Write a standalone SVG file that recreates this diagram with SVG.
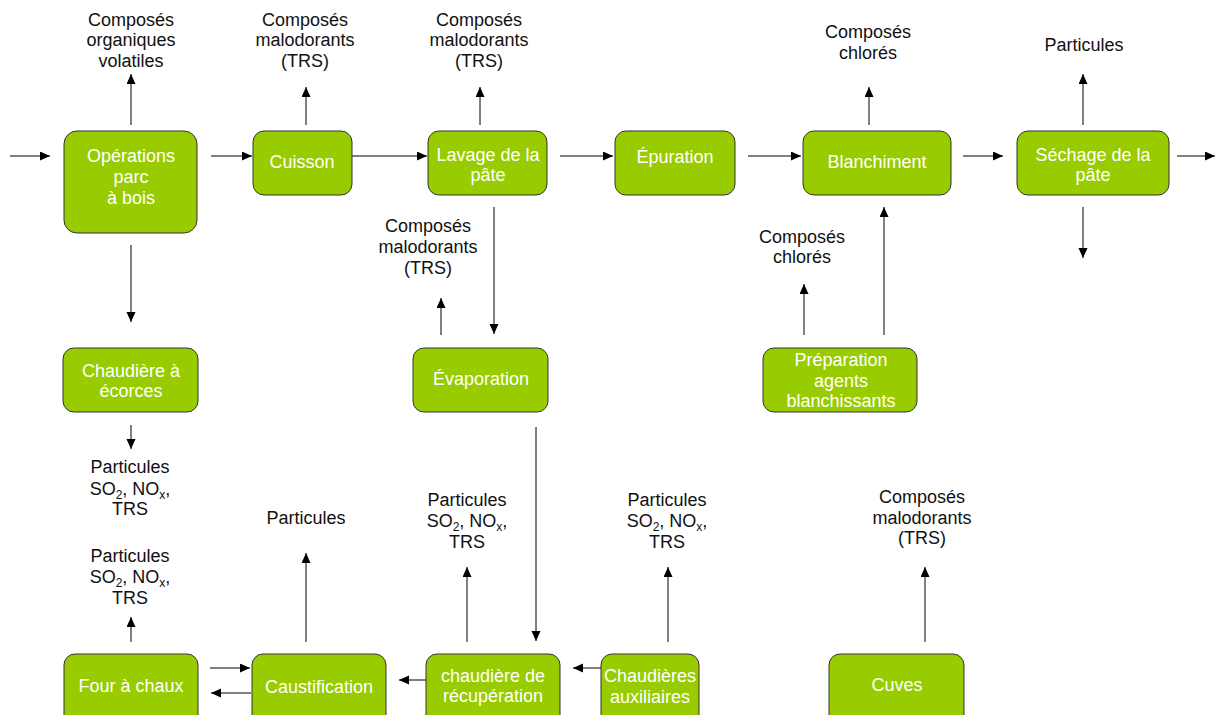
<svg xmlns="http://www.w3.org/2000/svg" width="1215" height="715" viewBox="0 0 1215 715">
<style>
.box{fill:#99cc00;stroke:#333;stroke-width:1}
.nt{font-family:"Liberation Sans",Arial,sans-serif;font-size:18px;fill:#fff;text-anchor:middle}
.lb{font-family:"Liberation Sans",Arial,sans-serif;font-size:18px;fill:#111;text-anchor:middle}
.sub{font-size:12px}
.c{stroke:#000;stroke-width:1;fill:none;marker-end:url(#ah)}
</style>
<defs>
<marker id="ah" markerUnits="userSpaceOnUse" markerWidth="11" markerHeight="10" refX="10" refY="4.5" orient="auto">
<path d="M0,0 L10,4.5 L0,9 z" fill="#000"/>
</marker>
</defs>
<rect width="1215" height="715" fill="#fff"/>
<g id="connectors">
<path class="c" d="M10,156 H50"/>
<path class="c" d="M211,156 H252"/>
<path class="c" d="M352,156 H427"/>
<path class="c" d="M560,156 H613"/>
<path class="c" d="M748,156 H801"/>
<path class="c" d="M963,156 H1003"/>
<path class="c" d="M1177,156 H1215"/>
<path class="c" d="M131,125 V74"/>
<path class="c" d="M306,125 V87"/>
<path class="c" d="M480,125 V87"/>
<path class="c" d="M869,125 V87"/>
<path class="c" d="M1083,125 V74"/>
<path class="c" d="M1083,207 V258"/>
<path class="c" d="M131,245 V322"/>
<path class="c" d="M494,207 V334"/>
<path class="c" d="M441,335 V298"/>
<path class="c" d="M536,427 V641"/>
<path class="c" d="M804,335 V284"/>
<path class="c" d="M884,335 V207"/>
<path class="c" d="M131,425 V449"/>
<path class="c" d="M131,642 V617"/>
<path class="c" d="M210,668 H250"/>
<path class="c" d="M251,693 H211"/>
<path class="c" d="M306,642 V553"/>
<path class="c" d="M426,680 H399"/>
<path class="c" d="M467,642 V567"/>
<path class="c" d="M601,668 H573"/>
<path class="c" d="M668,642 V567"/>
<path class="c" d="M925,642 V567"/>
</g>
<g id="labels">
<text class="lb" x="131" y="26">Composés</text>
<text class="lb" x="131" y="46">organiques</text>
<text class="lb" x="131" y="67">volatiles</text>
<text class="lb" x="305" y="26">Composés</text>
<text class="lb" x="305" y="46">malodorants</text>
<text class="lb" x="305" y="67">(TRS)</text>
<text class="lb" x="479" y="26">Composés</text>
<text class="lb" x="479" y="46">malodorants</text>
<text class="lb" x="479" y="67">(TRS)</text>
<text class="lb" x="868" y="38">Composés</text>
<text class="lb" x="868" y="59">chlorés</text>
<text class="lb" x="1084" y="51">Particules</text>
<text class="lb" x="428" y="232">Composés</text>
<text class="lb" x="428" y="253">malodorants</text>
<text class="lb" x="428" y="274">(TRS)</text>
<text class="lb" x="802" y="243">Composés</text>
<text class="lb" x="802" y="263">chlorés</text>
<text class="lb" x="130" y="473">Particules</text>
<text class="lb" x="130" y="495">SO<tspan class="sub" dy="4">2</tspan><tspan dy="-4">, NO</tspan><tspan class="sub" dy="4">x</tspan><tspan dy="-4">,</tspan></text>
<text class="lb" x="130" y="515">TRS</text>
<text class="lb" x="130" y="562">Particules</text>
<text class="lb" x="130" y="583">SO<tspan class="sub" dy="4">2</tspan><tspan dy="-4">, NO</tspan><tspan class="sub" dy="4">x</tspan><tspan dy="-4">,</tspan></text>
<text class="lb" x="130" y="604">TRS</text>
<text class="lb" x="306" y="524">Particules</text>
<text class="lb" x="467" y="506">Particules</text>
<text class="lb" x="467" y="527">SO<tspan class="sub" dy="4">2</tspan><tspan dy="-4">, NO</tspan><tspan class="sub" dy="4">x</tspan><tspan dy="-4">,</tspan></text>
<text class="lb" x="467" y="548">TRS</text>
<text class="lb" x="667" y="506">Particules</text>
<text class="lb" x="667" y="527">SO<tspan class="sub" dy="4">2</tspan><tspan dy="-4">, NO</tspan><tspan class="sub" dy="4">x</tspan><tspan dy="-4">,</tspan></text>
<text class="lb" x="667" y="548">TRS</text>
<text class="lb" x="922" y="503">Composés</text>
<text class="lb" x="922" y="524">malodorants</text>
<text class="lb" x="922" y="544">(TRS)</text>
</g>
<g id="n-operations"><rect class="box" x="64" y="131" width="133" height="102" rx="13"/>
<text class="nt" x="131" y="162">Opérations</text><text class="nt" x="131" y="183">parc</text><text class="nt" x="131" y="204">à bois</text></g>
<g id="n-cuisson"><rect class="box" x="253" y="131" width="99" height="64" rx="11"/>
<text class="nt" x="302" y="168">Cuisson</text></g>
<g id="n-lavage"><rect class="box" x="428" y="131" width="119" height="64" rx="11"/>
<text class="nt" x="488" y="161">Lavage de la</text><text class="nt" x="488" y="181">pâte</text></g>
<g id="n-epuration"><rect class="box" x="615" y="131" width="120" height="64" rx="11"/>
<text class="nt" x="675" y="163">Épuration</text></g>
<g id="n-blanchiment"><rect class="box" x="803" y="131" width="148" height="64" rx="11"/>
<text class="nt" x="877" y="168">Blanchiment</text></g>
<g id="n-sechage"><rect class="box" x="1017" y="131" width="152" height="64" rx="11"/>
<text class="nt" x="1093" y="161">Séchage de la</text><text class="nt" x="1093" y="181">pâte</text></g>
<g id="n-chaudiere-ecorces"><rect class="box" x="63" y="348" width="135" height="64" rx="11"/>
<text class="nt" x="131" y="377">Chaudière à</text><text class="nt" x="131" y="397">écorces</text></g>
<g id="n-evaporation"><rect class="box" x="413" y="348" width="135" height="64" rx="11"/>
<text class="nt" x="481" y="385">Évaporation</text></g>
<g id="n-preparation"><rect class="box" x="763" y="348" width="154" height="64" rx="11"/>
<text class="nt" x="841" y="366">Préparation</text><text class="nt" x="841" y="387">agents</text><text class="nt" x="841" y="407">blanchissants</text></g>
<g id="n-four"><rect class="box" x="64" y="654" width="134" height="72" rx="11"/>
<text class="nt" x="131" y="692">Four à chaux</text></g>
<g id="n-caustification"><rect class="box" x="252" y="654" width="134" height="72" rx="11"/>
<text class="nt" x="319" y="693">Caustification</text></g>
<g id="n-chaudiere-recuperation"><rect class="box" x="426" y="654" width="134" height="72" rx="11"/>
<text class="nt" x="493" y="682">chaudière de</text><text class="nt" x="493" y="702">récupération</text></g>
<g id="n-chaudieres-auxiliaires"><rect class="box" x="601" y="654" width="98" height="72" rx="11"/>
<text class="nt" x="650" y="682">Chaudières</text><text class="nt" x="650" y="703">auxiliaires</text></g>
<g id="n-cuves"><rect class="box" x="829" y="654" width="135" height="72" rx="11"/>
<text class="nt" x="897" y="691">Cuves</text></g>
</svg>
